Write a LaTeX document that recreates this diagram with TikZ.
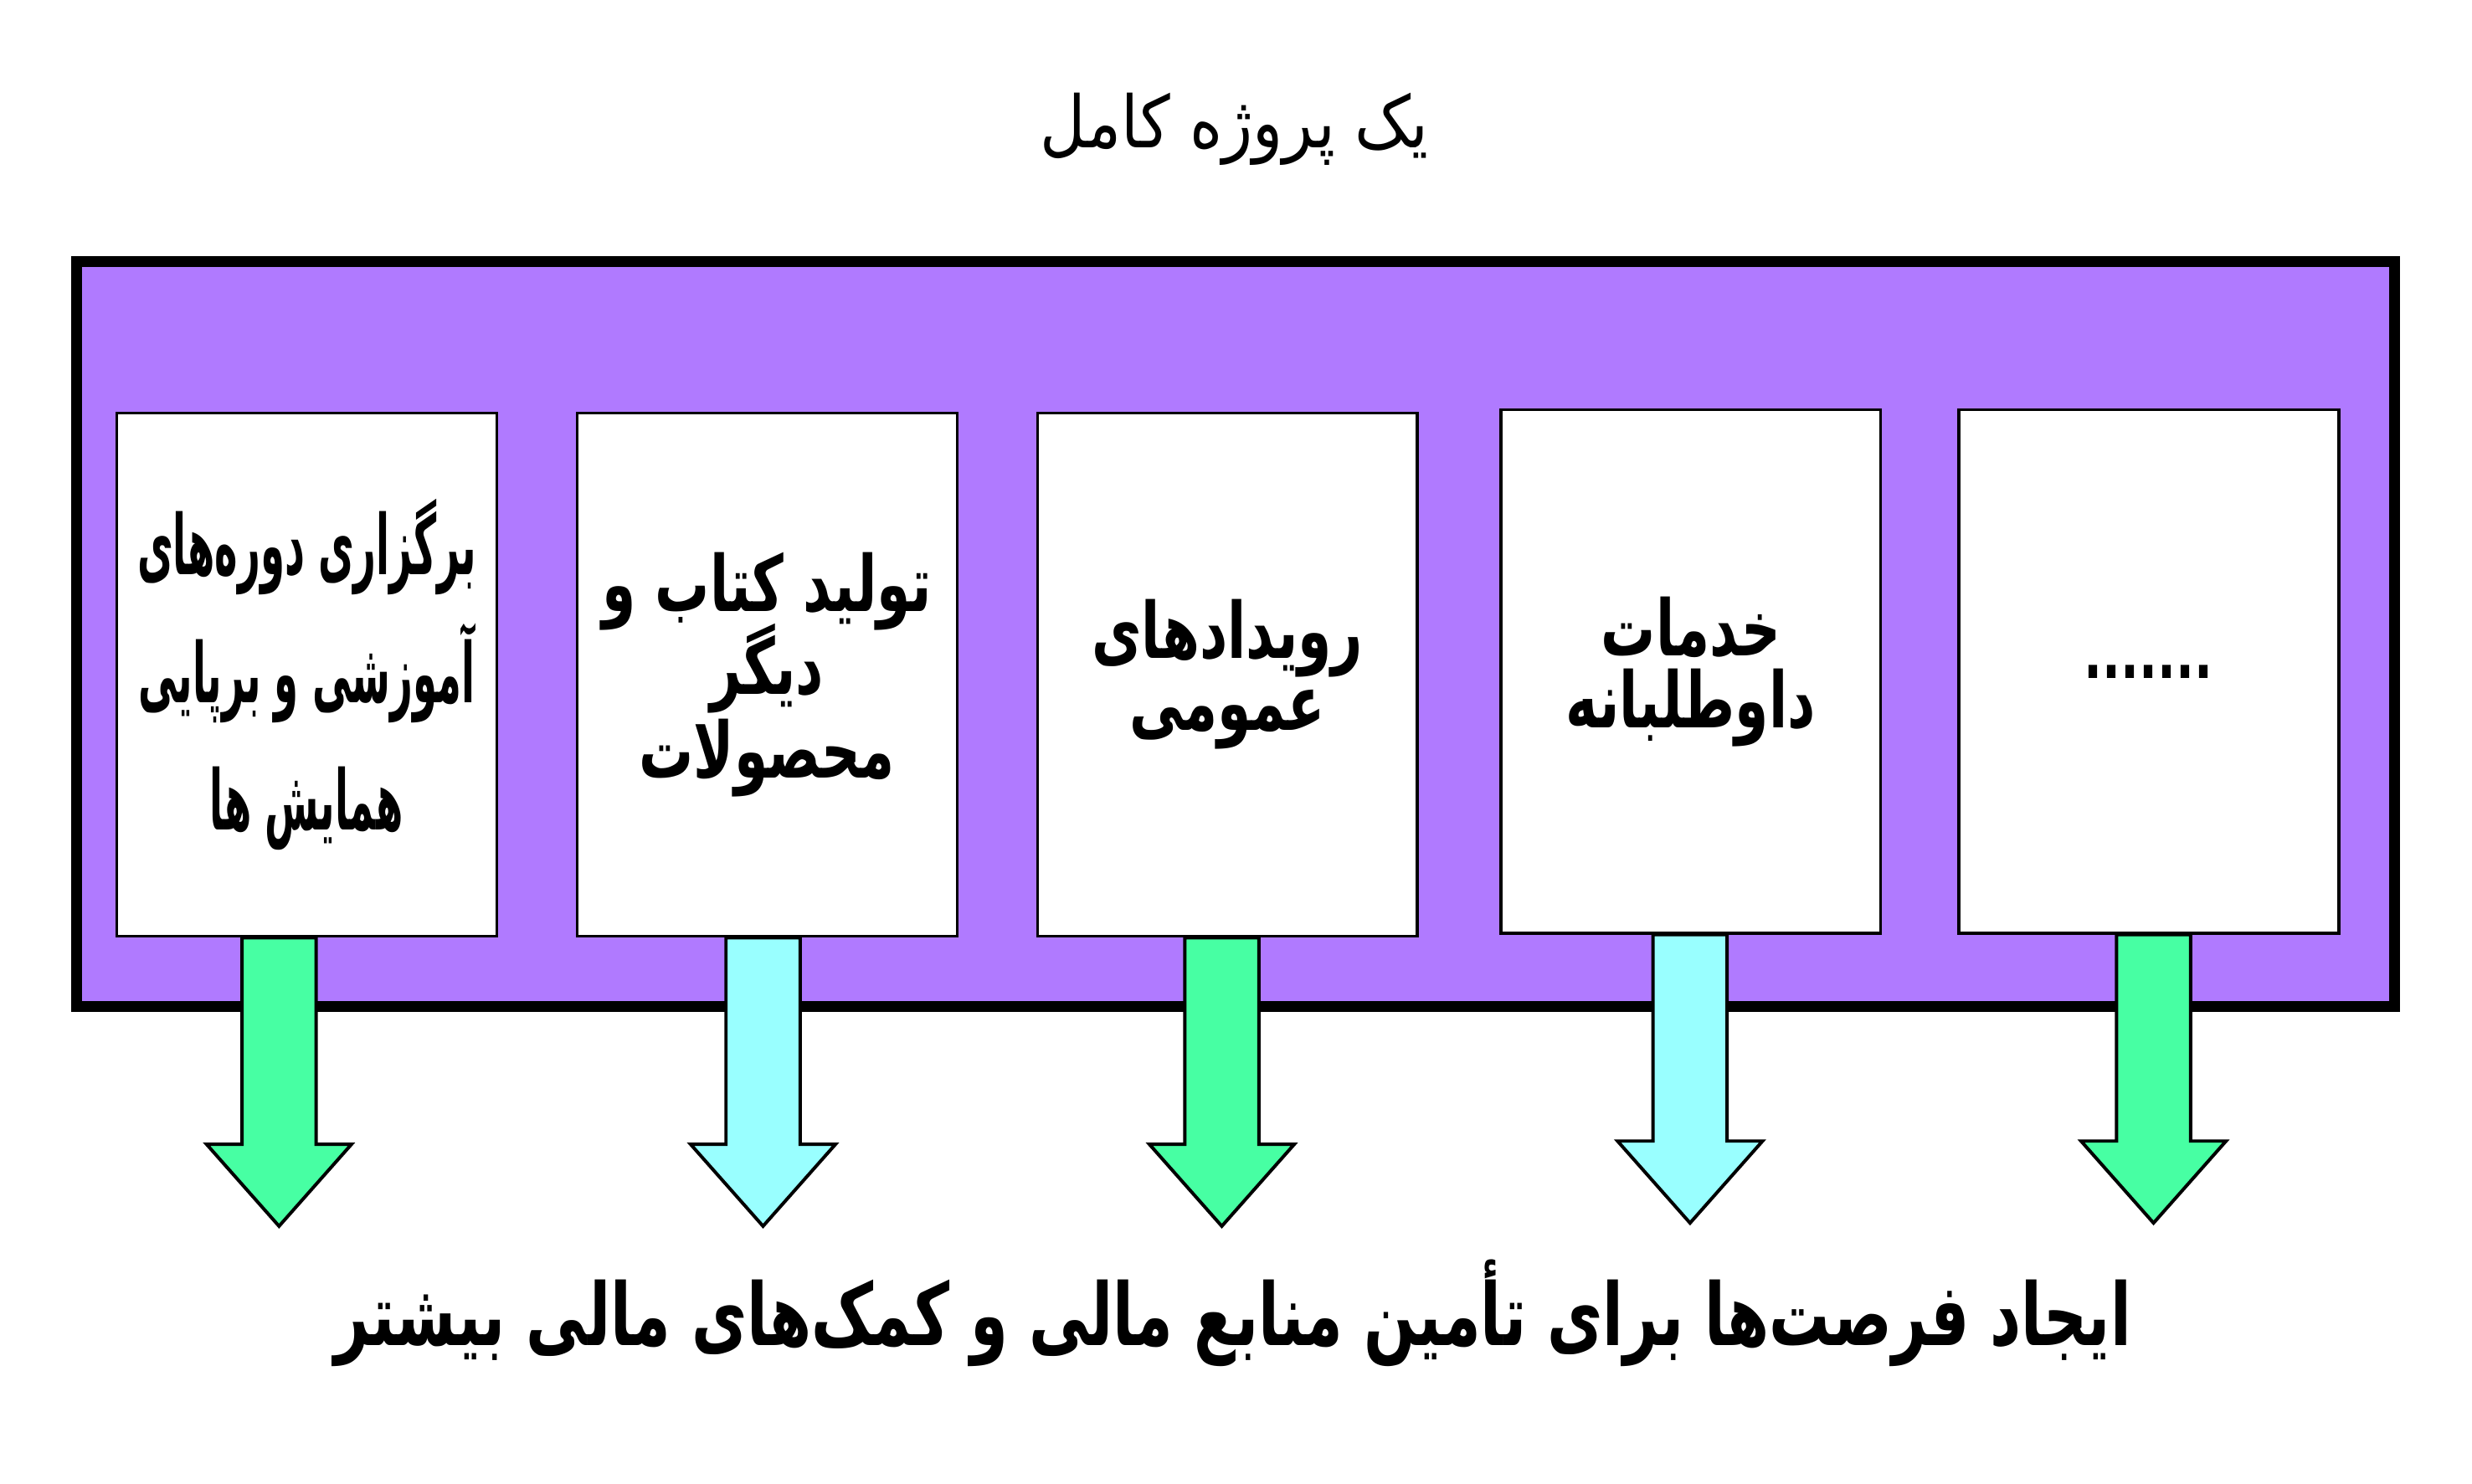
\documentclass[tikz,border=0pt]{standalone}
\usepackage{fontspec}
\usepackage{tikz}
\TeXXeTstate=1
\newfontfamily\fatitle[Script=Arabic,FakeStretch=0.87]{DejaVu Sans}
\newfontfamily\fabox[Script=Arabic,FakeStretch=0.7]{DejaVu Sans}
\newfontfamily\fanarrow[Script=Arabic,FakeStretch=0.47]{DejaVu Sans}
\newcommand{\boxfont}[3]{#1\bfseries\fontsize{#2}{#3}\selectfont\lineskiplimit=-20pt\relax}
\definecolor{proj_purple}{RGB}{176, 122, 255}
\definecolor{fund_green}{RGB}{71, 255, 163}
\definecolor{fund_cyan}{RGB}{153, 255, 255}
\tikzstyle{frame}=[draw=black,fill=proj_purple,line width=1.9pt]
\tikzstyle{item}=[rectangle,draw=black,fill=white,line width=0.5pt,
  inner sep=0pt,minimum width=24.1mm,minimum height=33.2mm,align=center]
\tikzstyle{ga}=[draw=black,fill=fund_green,line width=0.6pt,line join=miter]
\tikzstyle{ca}=[draw=black,fill=fund_cyan,line width=0.6pt,line join=miter]
\tikzstyle{none}=[inner sep=0pt]
\usetikzlibrary{positioning}

\begin{document}
\begin{tikzpicture}[x=0.1mm, y=-0.1mm]
    \useasboundingbox (0, 0) rectangle (1568, 941);
    \node [style=none, font=\fatitle\fontsize{13}{13}\selectfont] (title) at (783, 82) {\beginR یک پروژه کامل\endR};
    \draw [style=frame] (48.5, 166) rectangle (1519, 638.5);
    \node [style=item, font={\boxfont{\fanarrow}{15}{23}}] (1) at (194.5, 428) {\beginR برگزاری دوره‌های\endR\\\beginR آموزشی و برپایی\endR\\\beginR همایش ها\endR};
    \node [style=item, font={\boxfont{\fabox}{14}{15}}] (2) at (486.5, 428) {\beginR تولید کتاب و\endR\\\beginR دیگر\endR\\\beginR محصولات\endR};
    \node [style=item, font={\boxfont{\fabox}{14}{13}}] (3) at (778.5, 428) {\beginR رویدادهای\endR\\\beginR عمومی\endR};
    \node [style=item, font={\boxfont{\fabox}{14}{13}}] (4) at (1072.5, 426) {\beginR خدمات\endR\\\beginR داوطلبانه\endR};
    \node [style=item, font={\boxfont{\fabox}{12.5}{13}}] (5) at (1363, 426) {.......};
    \draw [style=ga] (1.south) ++(-41, 0) -- ++(0, 131) -- ++(-22.5, 0) -- ++(46, 52) -- ++(46, -52) -- ++(-22.5, 0) -- ++(0, -131) -- cycle;
    \draw [style=ca] (2.south) ++(-26, 0) -- ++(0, 131) -- ++(-22.5, 0) -- ++(46, 52) -- ++(46, -52) -- ++(-22.5, 0) -- ++(0, -131) -- cycle;
    \draw [style=ga] (3.south) ++(-27, 0) -- ++(0, 131) -- ++(-22.5, 0) -- ++(46, 52) -- ++(46, -52) -- ++(-22.5, 0) -- ++(0, -131) -- cycle;
    \draw [style=ca] (4.south) ++(-24, 0) -- ++(0, 131) -- ++(-22.5, 0) -- ++(46, 52) -- ++(46, -52) -- ++(-22.5, 0) -- ++(0, -131) -- cycle;
    \draw [style=ga] (5.south) ++(-20.5, 0) -- ++(0, 131) -- ++(-22.5, 0) -- ++(46, 52) -- ++(46, -52) -- ++(-22.5, 0) -- ++(0, -131) -- cycle;
    \node [style=none, font=\fabox\bfseries\fontsize{15.6}{15.6}\selectfont] (goal) at (782, 833) {\beginR ایجاد فرصت‌ها برای تأمین منابع مالی و کمک‌های مالی بیشتر\endR};
\end{tikzpicture}
\end{document}
